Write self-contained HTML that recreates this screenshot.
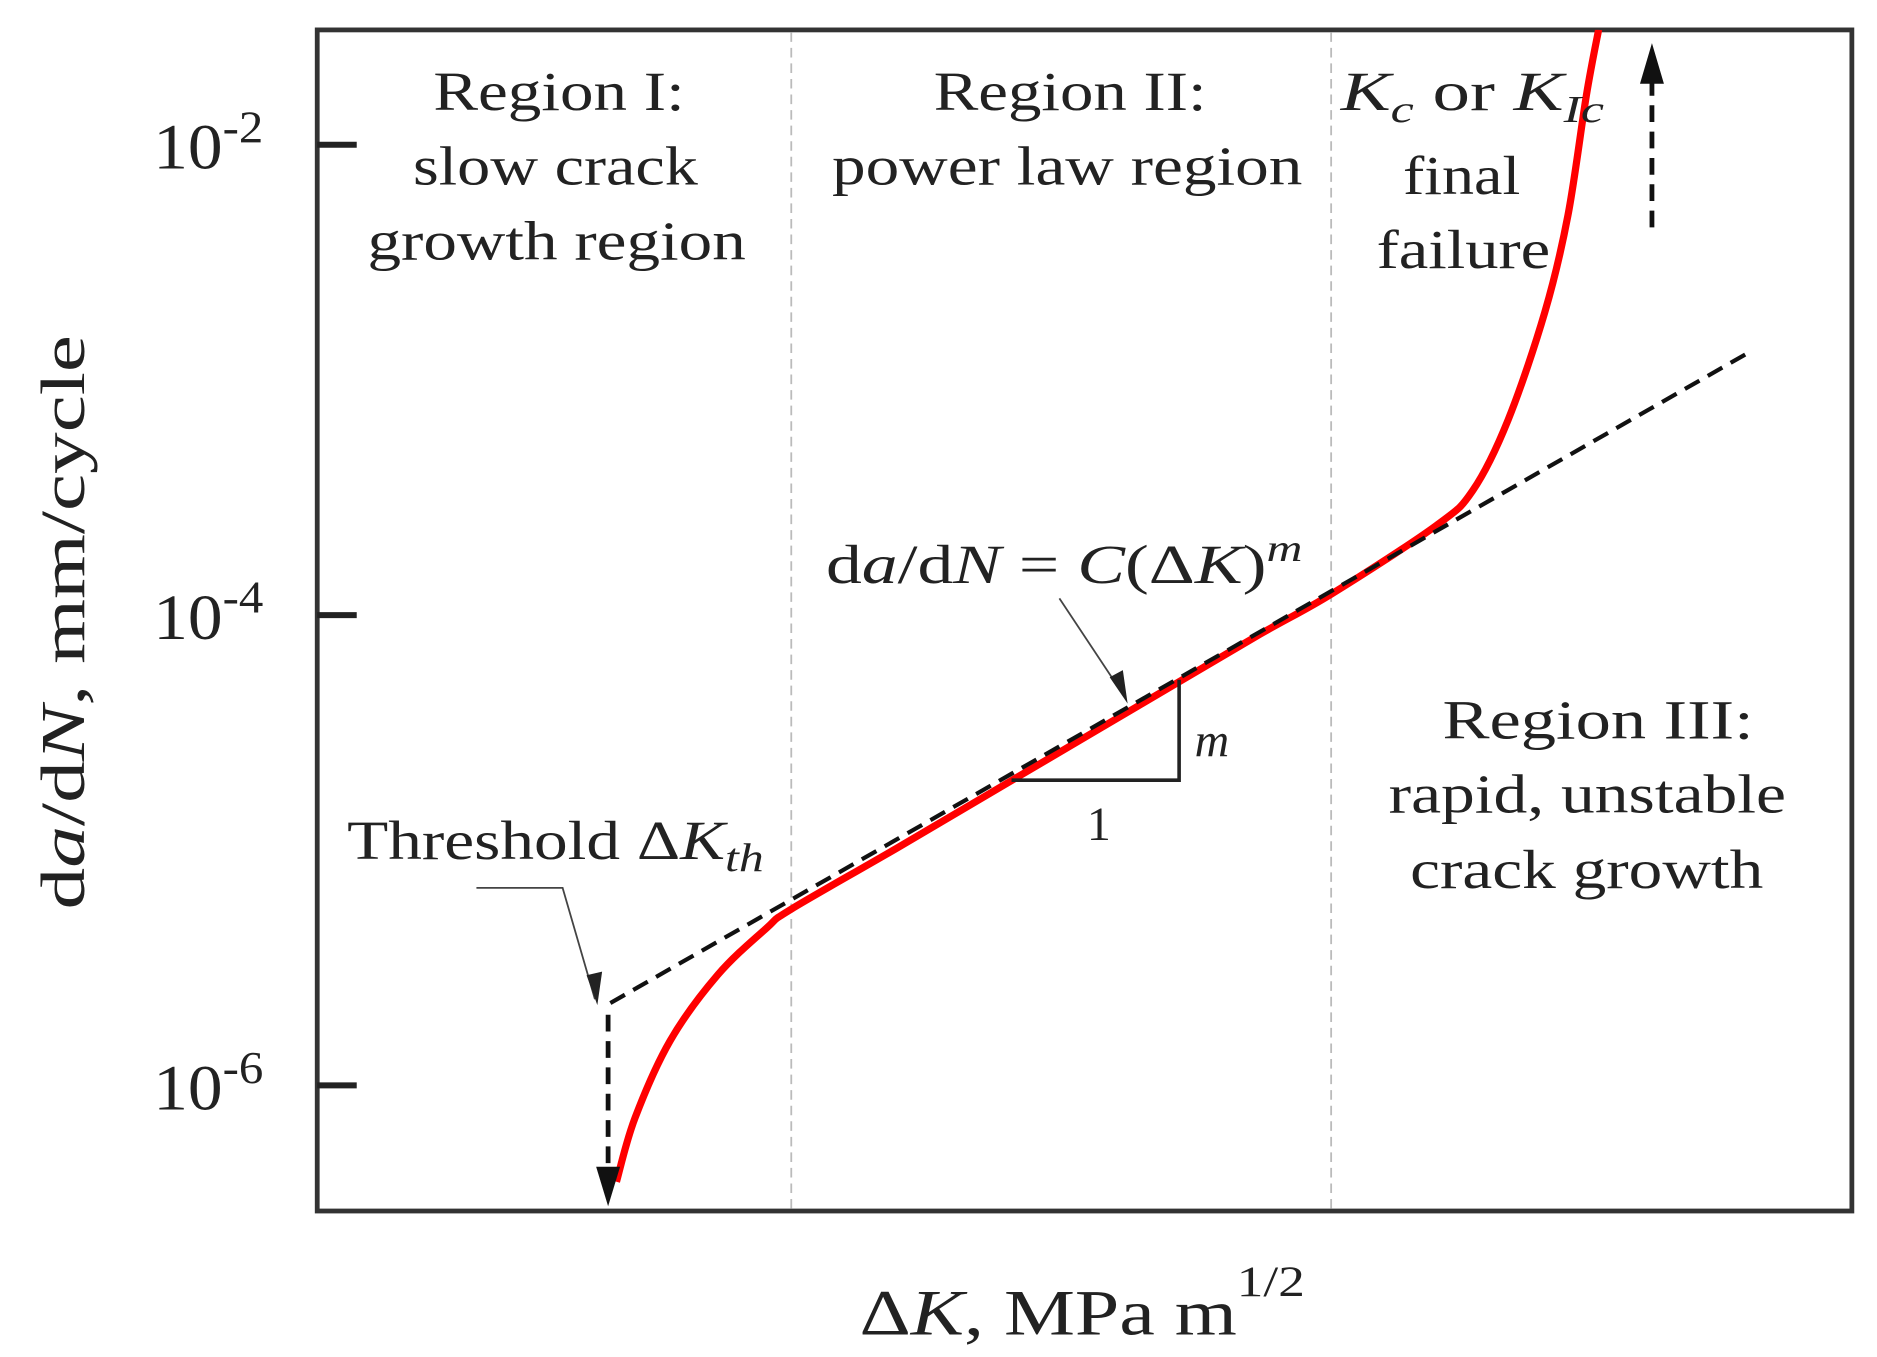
<!DOCTYPE html>
<html><head><meta charset="utf-8"><style>
html,body{margin:0;padding:0;background:#fff;}
svg{display:block;}
text{font-family:"Liberation Serif",serif;fill:#222;}
</style></head><body>
<svg id="chart" width="1877" height="1357" viewBox="0 0 1568 1134" preserveAspectRatio="none">
<defs><clipPath id="clip"><rect x="265" y="25" width="1282" height="987"/></clipPath></defs>
<rect x="265" y="25" width="1282" height="987" fill="none" stroke="#333" stroke-width="4"/>
<line x1="661" y1="27" x2="661" y2="1010" stroke="#bbb" stroke-width="1.5" stroke-dasharray="8,5"/>
<line x1="1112" y1="27" x2="1112" y2="1010" stroke="#bbb" stroke-width="1.5" stroke-dasharray="8,5"/>
<g id="ticks"></g>
<g id="marks" clip-path="url(#clip)"></g>
<line x1="508" y1="848" x2="508" y2="985" stroke="#111" stroke-width="4" stroke-dasharray="14,8"/>
<polygon points="498,975 518,975 508,1008" fill="#111"/>
<line x1="1380" y1="190" x2="1380" y2="60" stroke="#111" stroke-width="4" stroke-dasharray="14,8"/>
<polygon points="1370,70 1390,70 1380,36" fill="#111"/>
<polyline points="845,652 985,652 985,568" fill="none" stroke="#222" stroke-width="3"/>
<polyline points="398,742 470,742 497,835" fill="none" stroke="#444" stroke-width="1.5"/>
<polygon points="490,815 503,812 499,840" fill="#222"/>
<line x1="885" y1="500" x2="938" y2="580" stroke="#444" stroke-width="1.5"/>
<polygon points="927,566 938,560 942,588" fill="#222"/>
<g font-size="46" lengthAdjust="spacingAndGlyphs">
<text x="362" y="92" textLength="210" lengthAdjust="spacingAndGlyphs">Region I:</text>
<text x="345" y="154" textLength="238" lengthAdjust="spacingAndGlyphs">slow crack</text>
<text x="307" y="217" textLength="316" lengthAdjust="spacingAndGlyphs">growth region</text>
<text x="780" y="92" textLength="228" lengthAdjust="spacingAndGlyphs">Region II:</text>
<text x="695" y="154" textLength="393" lengthAdjust="spacingAndGlyphs">power law region</text>
<text x="1172" y="162" textLength="98" lengthAdjust="spacingAndGlyphs">final</text>
<text x="1150" y="224" textLength="145" lengthAdjust="spacingAndGlyphs">failure</text>
<text x="1205" y="617" textLength="260" lengthAdjust="spacingAndGlyphs">Region III:</text>
<text x="1160" y="679" textLength="332" lengthAdjust="spacingAndGlyphs">rapid, unstable</text>
<text x="1178" y="742" textLength="295" lengthAdjust="spacingAndGlyphs">crack growth</text>
</g>
<text x="1120" y="92" font-size="46" textLength="220" lengthAdjust="spacingAndGlyphs"><tspan font-style="italic">K</tspan><tspan font-style="italic" font-size="32" dy="10">c</tspan><tspan dy="-10"> or </tspan><tspan font-style="italic">K</tspan><tspan font-style="italic" font-size="32" dy="10">Ic</tspan></text>
<text x="290" y="718" font-size="46" textLength="348" lengthAdjust="spacingAndGlyphs">Threshold Δ<tspan font-style="italic">K</tspan><tspan font-style="italic" font-size="34" dy="10">th</tspan></text>
<text x="690" y="487" font-size="46" textLength="398" lengthAdjust="spacingAndGlyphs">d<tspan font-style="italic">a</tspan>/d<tspan font-style="italic">N</tspan> = <tspan font-style="italic">C</tspan>(Δ<tspan font-style="italic">K</tspan>)<tspan font-style="italic" font-size="32" dy="-18">m</tspan></text>
<text x="998" y="632" font-size="40" font-style="italic">m</text>
<text x="908" y="702" font-size="40">1</text>
<text x="718" y="1115" font-size="54" textLength="372" lengthAdjust="spacingAndGlyphs">Δ<tspan font-style="italic">K</tspan>, MPa m<tspan font-size="36" dy="-32">1/2</tspan></text>
<text transform="translate(70,760) rotate(-90)" font-size="52" textLength="480" lengthAdjust="spacingAndGlyphs">d<tspan font-style="italic">a</tspan>/d<tspan font-style="italic">N</tspan>, mm/cycle</text>
</svg>
<script>
const tickExps=[-2,-4,-6];
const curveX=[19.5,20.7,23.0,26.1,29.3,30.9,37.8,45.6,53.4,61.2,66.1,72.9,75.3,77.6,80.0,81.5,82.7,83.5];
const curveLogY=[-6.41,-6.14,-5.81,-5.53,-5.33,-5.25,-4.99,-4.69,-4.39,-4.09,-3.91,-3.62,-3.47,-3.17,-2.71,-2.30,-1.79,-1.51];
const fitX=[19.1,93.1];
const fitLogY=[-5.65,-2.89];

const NS='http://www.w3.org/2000/svg';
function xs(v){return 265+v*12.82;}
function ys(l){return 514-(l+4)*196.5;}
function smooth(px,py){
  let d='M'+px[0]+','+py[0];
  for(let i=0;i<px.length-1;i++){
    const x0=px[Math.max(0,i-1)],y0=py[Math.max(0,i-1)],x1=px[i],y1=py[i],x2=px[i+1],y2=py[i+1],x3=px[Math.min(px.length-1,i+2)],y3=py[Math.min(px.length-1,i+2)];
    d+=' C'+(x1+(x2-x0)/6)+','+(y1+(y2-y0)/6)+' '+(x2-(x3-x1)/6)+','+(y2-(y3-y1)/6)+' '+x2+','+y2;
  }
  return d;
}
const ticks=document.getElementById('ticks');
tickExps.forEach(e=>{
  const y=ys(e);
  const l=document.createElementNS(NS,'line');
  
  
  l.setAttribute('x1',265);l.setAttribute('x2',298);l.setAttribute('y1',y);l.setAttribute('y2',y);
  l.setAttribute('stroke','#222');l.setAttribute('stroke-width',5);
  ticks.appendChild(l);
  const t=document.createElementNS(NS,'text');
  
  
  t.setAttribute('x',128);t.setAttribute('y',y+20);t.setAttribute('font-size',54);
  t.setAttribute('textLength',92);t.setAttribute('lengthAdjust','spacingAndGlyphs');
  t.innerHTML='10<tspan font-size="38" dy="-22">'+e+'</tspan>';
  ticks.appendChild(t);
});
const marks=document.getElementById('marks');
const fit=document.createElementNS(NS,'line');


fit.setAttribute('x1',xs(fitX[0]));fit.setAttribute('y1',ys(fitLogY[0]));
fit.setAttribute('x2',xs(fitX[1]));fit.setAttribute('y2',ys(fitLogY[1]));
fit.setAttribute('stroke','#111');fit.setAttribute('stroke-width',3.5);fit.setAttribute('stroke-dasharray','14,8');
marks.appendChild(fit);
const c=document.createElementNS(NS,'path');


c.setAttribute('d',smooth(curveX.map(xs),curveLogY.map(ys)));
c.setAttribute('fill','none');c.setAttribute('stroke','#f00');c.setAttribute('stroke-width',6);
marks.insertBefore(c,fit);
</script>
</body></html>
